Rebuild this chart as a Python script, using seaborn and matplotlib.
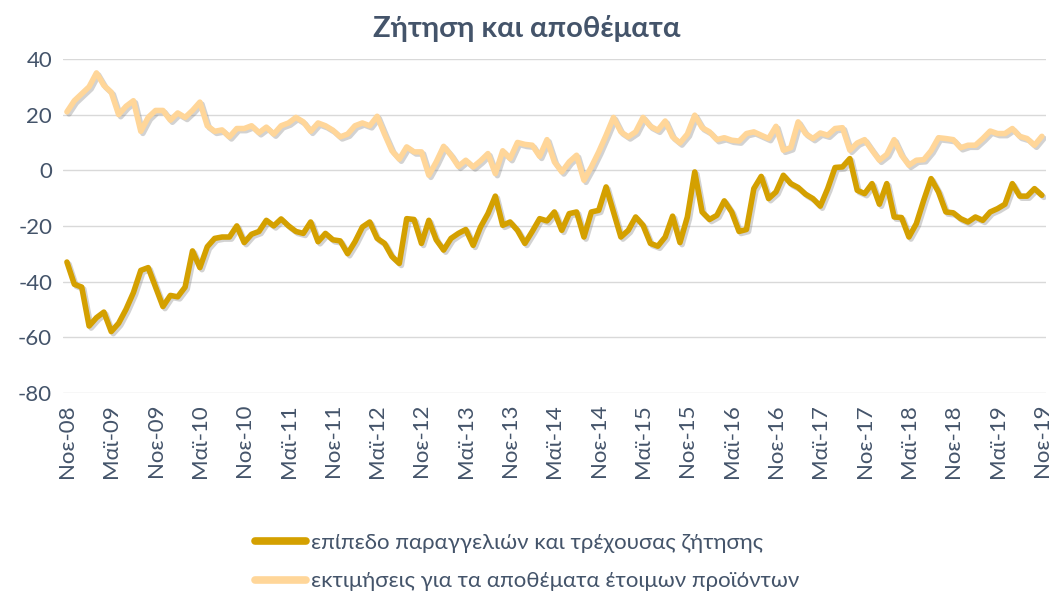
import numpy as np
import pandas as pd
import matplotlib
matplotlib.use("Agg")
import matplotlib.pyplot as plt
import matplotlib.patheffects as pe
import seaborn as sns

# Μηνιαίες τιμές Νοε-08 ... Νοε-19
orders = [
    -33, -41, -42, -56, -53, -51, -58, -55, -50, -44, -36, -35, -42, -49, -45, -45.5,
    -42, -29, -35, -27.5, -24.5, -24, -24, -20, -26, -23, -22, -18, -20, -17.5, -20, -22,
    -22.7, -18.6, -25.7, -22.7, -25, -25.4, -30, -25.7, -20.4, -18.6, -24.5, -26.3, -31, -33.5,
    -17.4, -17.7, -26.3, -18, -25, -28.7, -24.5, -22.7, -21.3, -27, -20.4, -15.6, -9.3, -19.8,
    -18.6, -21.6, -26.3, -22, -17.4, -18.2, -15, -21.6, -15.6, -15, -24, -15, -14.4, -6, -15,
    -24, -21.6, -16.8, -19.8, -26.3, -27.3, -24, -16.5, -26, -16.8, -0.6, -15, -17.7, -16.2,
    -11, -15, -22, -21.3, -6.6, -2.2, -10.2, -7.8, -1.8, -4.8, -6.2, -8.6, -10.2, -12.9, -6.6,
    1, 1.2, 4.2, -7.2, -8.4, -4.8, -12.2, -4.8, -16.8, -17, -24, -19.2, -10.8, -3, -7.8, -15,
    -15.3, -17.4, -18.6, -16.8, -18, -15, -13.8, -12.2, -4.8, -9.3, -9.3, -6.6, -9,
]
stocks = [
    21, 25, 27.5, 30, 35, 30.5, 28, 20, 23, 25, 14, 19, 21.5, 21.5, 18, 20.6, 19, 21.5, 24.5,
    16, 14, 14.5, 12, 15, 15, 16, 13.5, 15.5, 13, 16, 17, 19, 17.4, 14, 17, 16, 14.4, 12, 13,
    16, 17, 16, 19.4, 13, 7, 4, 8.4, 6.6, 6.6, -1.8, 3, 8.6, 5.4, 1.4, 3.6, 1.2, 3.4, 6, -1.2,
    7, 4.2, 10, 9.3, 9, 5, 11, 3, -0.6, 3, 5.4, -3.6, 1.2, 6.6, 12.6, 19, 13.8, 12, 13.8, 19,
    15.8, 14.4, 17.7, 12, 9.8, 13, 19.8, 15.3, 13.8, 11, 11.7, 10.8, 10.5, 13.2, 13.8, 12.6,
    11.4, 15.8, 7.2, 8.1, 17.4, 13.2, 11.4, 13.4, 12.6, 15, 15.3, 7.2, 9.8, 11, 7.2, 3.6, 5.7,
    11, 5.4, 1.8, 3.6, 3.8, 7, 11.7, 11.4, 11, 8.1, 9, 9, 11.4, 14.1, 13.2, 13.2, 15, 12.2,
    11.4, 9, 12.2,
]
tick_labels = [
    "Νοε-08", "Μαϊ-09", "Νοε-09", "Μαϊ-10", "Νοε-10", "Μαϊ-11", "Νοε-11", "Μαϊ-12",
    "Νοε-12", "Μαϊ-13", "Νοε-13", "Μαϊ-14", "Νοε-14", "Μαϊ-15", "Νοε-15", "Μαϊ-16",
    "Νοε-16", "Μαϊ-17", "Νοε-17", "Μαϊ-18", "Νοε-18", "Μαϊ-19", "Νοε-19",
]
label_orders = "επίπεδο παραγγελιών και τρέχουσας ζήτησης"
label_stocks = "εκτιμήσεις για τα αποθέματα έτοιμων προϊόντων"

sns.set_theme(style="white")
plt.rcParams['font.family'] = ['Lato', 'Noto Sans', 'DejaVu Sans']
plt.rcParams['axes.unicode_minus'] = False

text_col = '#44546A'
c_orders = '#D4A000'
c_stocks = '#FFD699'

months = np.arange(len(orders))
df = pd.DataFrame({'m': np.concatenate([months, months]),
                   'v': orders + stocks,
                   's': [label_orders] * len(orders) + [label_stocks] * len(stocks)})

fig = plt.figure(figsize=(10.54, 5.96), dpi=100)
ax = fig.add_axes([0.06, 0.341, 0.932, 0.560])

shadow = [pe.SimpleLineShadow(offset=(1.5, -1.5), shadow_color='#7f7f7f', alpha=0.35), pe.Normal()]
sns.lineplot(data=df, x='m', y='v', hue='s', palette=[c_orders, c_stocks],
             linewidth=4.0, ax=ax, legend=False)
for ln in ax.lines:
    ln.set_path_effects(shadow)
    ln.set_solid_joinstyle('round')

ax.set_xlim(-0.5, len(orders) - 0.5)
ax.set_ylim(-80, 40)
ax.set_yticks(range(-80, 41, 20))
ax.set_xticks(months[::6])
ax.set_xticklabels(tick_labels, rotation=90)
ax.tick_params(axis='both', colors=text_col, labelsize=16, length=0, pad=8)
ax.grid(axis='y', color='#D9D9D9', linewidth=1)
ax.set_axisbelow(True)
for s in ax.spines.values():
    s.set_visible(False)
ax.set_xlabel('')
ax.set_ylabel('')

fig.suptitle("Ζήτηση και αποθέματα", fontsize=21, fontweight='bold', color=text_col, y=0.975)

handles = [plt.Line2D([], [], color=c_orders, linewidth=5.5, solid_capstyle='round'),
           plt.Line2D([], [], color=c_stocks, linewidth=5.5, solid_capstyle='round')]
fig.legend(handles, [label_orders, label_stocks], loc='lower center', bbox_to_anchor=(0.5, -0.026),
           ncol=1, frameon=False, fontsize=16, labelcolor=text_col, handlelength=2.3,
           handletextpad=0.2, labelspacing=0.85)

fig.savefig('out.png', dpi=100)
